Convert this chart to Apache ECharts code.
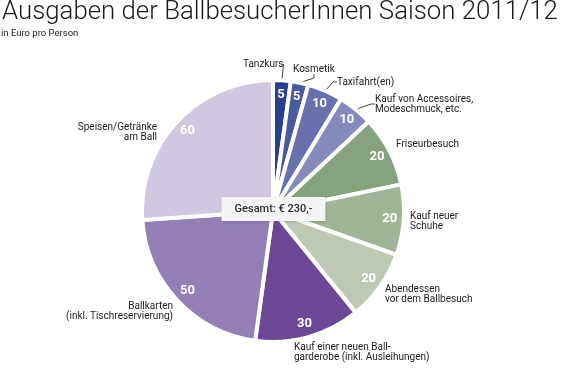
<!DOCTYPE html>
<html>
<head>
<meta charset="utf-8">
<script src="https://cdn.jsdelivr.net/npm/echarts@6/dist/echarts.min.js"></script>
<style>
html,body{margin:0;padding:0;background:#fff;}
#chart{width:567px;height:386px;}
</style>
</head>
<body>
<div id="chart"></div>
<script>
// ---- data ----
const categories = [
  'Tanzkurs',
  'Kosmetik',
  'Taxifahrt(en)',
  'Kauf von Accessoires,\nModeschmuck, etc.',
  'Friseurbesuch',
  'Kauf neuer\nSchuhe',
  'Abendessen\nvor dem Ballbesuch',
  'Kauf einer neuen Ball-\ngarderobe (inkl. Ausleihungen)',
  'Ballkarten\n(inkl. Tischreservierung)',
  'Speisen/Getränke\nam Ball'
];
const values = [5, 5, 10, 10, 20, 20, 20, 30, 50, 60];
const totalLabel = 'Gesamt: € 230,-';
const titleText = 'Ausgaben der BallbesucherInnen Saison 2011/12';
const subtitleText = 'in Euro pro Person';

// ---- styles ----
const colors = ['#283f8c','#4a5a9e','#6870ad','#8589bc','#87a27f','#a0b597','#bdc9b2','#6b4896','#937fb6','#d0c7e1'];
const withLine = [true, true, true, true, false, false, false, false, false, false];
// outer label placement: [x, y, align]
const labelPos = [
  [243, 64, 'left'],
  [293, 69, 'left'],
  [337, 82, 'left'],
  [375, 104, 'left'],
  [396, 144, 'left'],
  [410, 221, 'left'],
  [385, 294, 'left'],
  [294, 352, 'left'],
  [173, 311, 'right'],
  [157, 132, 'right']
];
const CENTER = [273, 211];
const R = 131;
const FONT = 'Roboto, "DejaVu Sans", sans-serif';
const TITLE_FONT = 'Roboto, sans-serif';

const chart = echarts.init(document.getElementById('chart'), null, {renderer: 'canvas'});

const mainData = categories.map((n, i) => ({
  name: n, value: values[i],
  itemStyle: {color: colors[i]},
  labelLine: {show: withLine[i]}
}));
const valueData = categories.map((n, i) => ({name: n, value: values[i]}));

chart.setOption({
  animation: false,
  title: [
    {text: titleText, left: -3, top: -5,
     textStyle: {fontFamily: TITLE_FONT, fontWeight: 300, fontSize: 25.8, color: '#1a1a1a'}},
    {text: subtitleText, left: -4, top: 24,
     textStyle: {fontFamily: FONT, fontWeight: 400, fontSize: 9.5, color: '#222'}}
  ],
  series: [
    {
      type: 'pie',
      center: CENTER,
      radius: [0, R],
      startAngle: 90,
      clockwise: true,
      avoidLabelOverlap: false,
      silent: true,
      data: mainData,
      itemStyle: {borderColor: '#fff', borderWidth: 4},
      label: {
        show: true, position: 'outside', formatter: '{b}',
        fontFamily: FONT, fontSize: 10, color: '#1a1a1a', lineHeight: 10
      },
      labelLine: {show: true, length: 6, length2: 4, lineStyle: {color: '#444', width: 1}},
      labelLayout: function (p) {
        const lp = labelPos[p.dataIndex];
        return {x: lp[0], y: lp[1], align: lp[2], verticalAlign: 'middle'};
      }
    },
    {
      type: 'pie',
      center: CENTER,
      radius: [97, R],
      startAngle: 90,
      clockwise: true,
      silent: true,
      data: valueData,
      itemStyle: {color: 'rgba(0,0,0,0)'},
      label: {
        show: true, position: 'inside', formatter: '{c}',
        fontFamily: FONT, fontSize: 13, fontWeight: 'bold', color: '#fff'
      },
      labelLine: {show: false}
    }
  ],
  graphic: [
    {
      type: 'text',
      x: CENTER[0] + 0.5, y: 209,
      style: {
        text: totalLabel, align: 'center', verticalAlign: 'middle',
        fontFamily: FONT, fontSize: 11, fontWeight: 500, fill: '#2a2a2a',
        backgroundColor: '#f4f4f4', padding: [7, 13, 6, 13],
        shadowBlur: 3, shadowColor: 'rgba(0,0,0,0.18)', shadowOffsetX: 1, shadowOffsetY: 1
      },
      z: 100
    }
  ]
});
</script>
</body>
</html>
